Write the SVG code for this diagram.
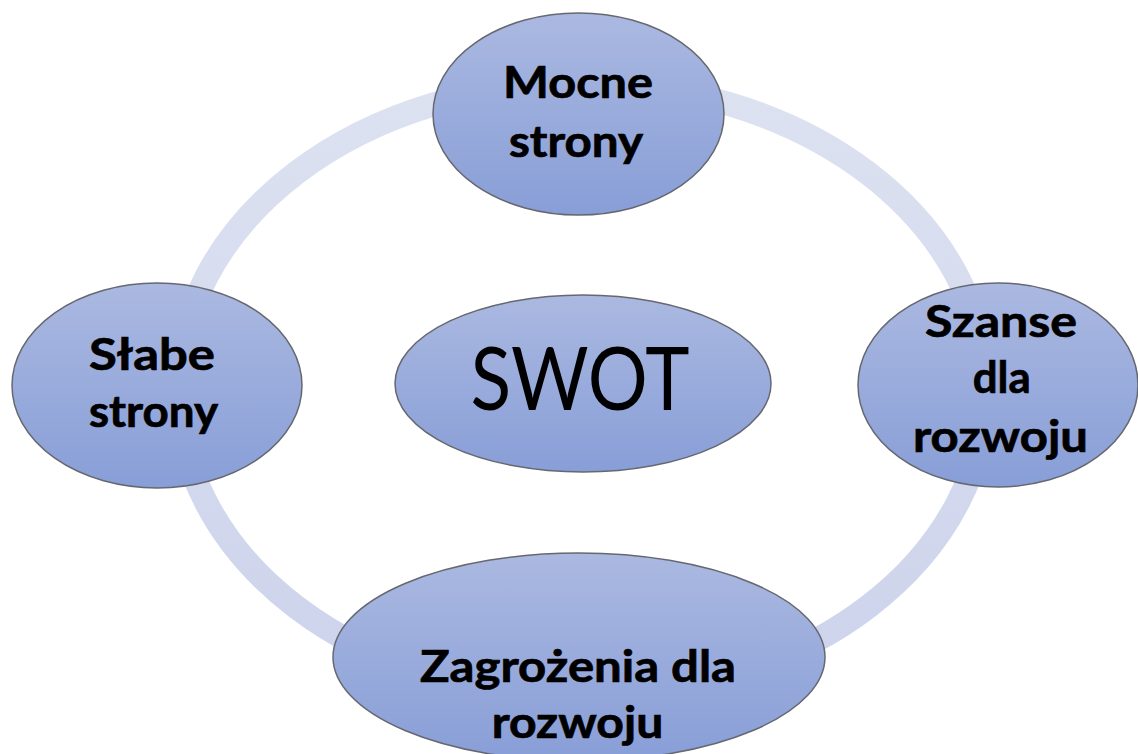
<svg xmlns="http://www.w3.org/2000/svg" width="1138" height="754" viewBox="0 0 1138 754">
  <defs>
    <linearGradient id="fillGrad" x1="0" y1="0" x2="0" y2="1">
      <stop offset="0" stop-color="#abb9e1"/>
      <stop offset="1" stop-color="#889ed7"/>
    </linearGradient>
    <linearGradient id="ringGrad" gradientUnits="userSpaceOnUse" x1="0" y1="80" x2="0" y2="700">
      <stop offset="0" stop-color="#dde2f1"/>
      <stop offset="1" stop-color="#ccd3eb"/>
    </linearGradient>
  </defs>
  <style>
    .node { fill: url(#fillGrad); stroke: #66686f; stroke-width: 1.5; }
    .lbl { font-family: Lato, "Liberation Sans", sans-serif; font-weight: bold; font-size: 44px; fill: #000; stroke: #000; stroke-width: 0.7; text-anchor: middle; }
    .big { font-family: Lato, "Liberation Sans", sans-serif; font-weight: normal; font-size: 87px; fill: #000; text-anchor: middle; }
    .ring { fill: none; stroke: url(#ringGrad); stroke-width: 24; }
  </style>
  <rect width="1138" height="754" fill="#ffffff"/>

  <g id="connectors">
    <ellipse class="ring" cx="582" cy="390" rx="404" ry="307"/>
  </g>

  <g id="node-mocne">
    <ellipse class="node" cx="578.5" cy="114" rx="145.5" ry="101"/>
    <text class="lbl" x="578" y="98" textLength="150" lengthAdjust="spacingAndGlyphs">Mocne</text>
    <text class="lbl" x="576" y="156.7" textLength="134" lengthAdjust="spacingAndGlyphs">strony</text>
  </g>

  <g id="node-slabe">
    <ellipse class="node" cx="157" cy="385.5" rx="145" ry="102.5"/>
    <text class="lbl" x="152" y="370" textLength="126" lengthAdjust="spacingAndGlyphs">Słabe</text>
    <text class="lbl" x="153.5" y="426.7" textLength="129" lengthAdjust="spacingAndGlyphs">strony</text>
  </g>

  <g id="node-szanse">
    <ellipse class="node" cx="998" cy="385" rx="140" ry="102"/>
    <text class="lbl" x="1001" y="336.7" textLength="152" lengthAdjust="spacingAndGlyphs">Szanse</text>
    <text class="lbl" x="1001.7" y="393" textLength="58" lengthAdjust="spacingAndGlyphs">dla</text>
    <text class="lbl" x="1000.5" y="451.7" textLength="175" lengthAdjust="spacingAndGlyphs">rozwoju</text>
  </g>

  <g id="node-swot">
    <ellipse class="node" cx="583" cy="383.5" rx="188" ry="88.5"/>
    <text class="big" x="580" y="410" textLength="219" lengthAdjust="spacingAndGlyphs">SWOT</text>
  </g>

  <g id="node-zagrozenia">
    <ellipse class="node" cx="579" cy="657" rx="246" ry="104"/>
    <text class="lbl" x="578" y="681.7" textLength="316" lengthAdjust="spacingAndGlyphs">Zagrożenia dla</text>
    <text class="lbl" x="577.5" y="738.3" textLength="171.6" lengthAdjust="spacingAndGlyphs">rozwoju</text>
  </g>
</svg>
